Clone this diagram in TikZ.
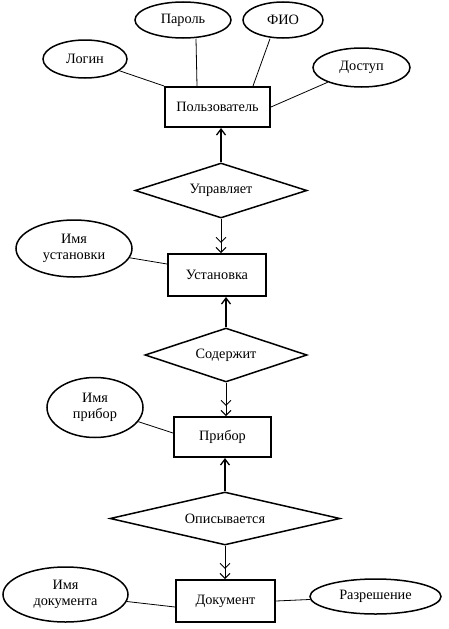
\documentclass[tikz,border=0pt]{standalone}
\usepackage{fontspec}
\setmainfont{Liberation Serif}
\usetikzlibrary{shapes.geometric,arrows.meta}
\begin{document}
\begin{tikzpicture}[x=1pt,y=-1pt,
 every node/.style={font=\fontsize{14.3}{16}\selectfont, align=center, inner sep=0pt},
 entity/.style={draw, line width=2pt, rectangle},
 attr/.style={draw, line width=1.5pt, ellipse},
 rel/.style={draw, line width=1.5pt, diamond},
 link/.style={line width=0.8pt},
 up/.style={line width=1.3pt, -{Straight Barb[length=6pt,width=9pt]}},
 dbl/.style={line width=0.9pt, -{Straight Barb[length=5pt,width=10pt,sep=4pt] Straight Barb[length=5pt,width=10pt]}}]
\useasboundingbox (0,0) rectangle (448,629);
\node[entity, minimum width=105pt, minimum height=40pt] (user) at (217.5,107) {Пользователь};
\node[attr, minimum width=96pt, minimum height=36pt] (parol) at (183,20) {Пароль};
\node[attr, minimum width=80pt, minimum height=36pt] (fio) at (283,20) {ФИО};
\node[attr, minimum width=84pt, minimum height=38pt] (login) at (85,59) {Логин};
\node[attr, minimum width=97pt, minimum height=39pt] (dostup) at (361.5,67.5) {Доступ};
\node[rel, aspect=3.6, minimum width=172pt, minimum height=55pt] (upr) at (221,190.5) {Управляет};
\node[entity, minimum width=98pt, minimum height=42pt] (ust) at (217,275) {Установка};
\node[attr, minimum width=116pt, minimum height=57pt] (imyaust) at (74,248.5) {Имя\\установки};
\node[rel, aspect=3.6, minimum width=162pt, minimum height=54pt] (sod) at (226,355) {Содержит};
\node[entity, minimum width=97pt, minimum height=40pt] (pribor) at (222.5,437) {Прибор};
\node[attr, minimum width=96pt, minimum height=60pt] (imyapr) at (95,407.5) {Имя\\прибор};
\node[rel, aspect=4.6, minimum width=230pt, minimum height=53pt] (opis) at (225,518.5) {Описывается};
\node[entity, minimum width=99pt, minimum height=42pt] (doc) at (225.5,601) {Документ};
\node[attr, minimum width=125pt, minimum height=55pt] (imyadoc) at (65.5,594.5) {Имя\\документа};
\node[attr, minimum width=131pt, minimum height=35pt] (razr) at (375.5,596.5) {Разрешение};
\draw[link] (login) -- (user.north west);
\draw[link] ([xshift=13pt]parol.south) -- ([xshift=33pt]user.north west);
\draw[link] ([xshift=-13pt]fio.south) -- ([xshift=89pt]user.north west);
\draw[link] (dostup) -- (user.east);
\draw[link] (imyaust) -- ([yshift=11pt]ust.west);
\draw[link] (imyapr) -- ([yshift=4pt]pribor.west);
\draw[link] (imyadoc) -- ([yshift=-6pt]doc.west);
\draw[link] (razr) -- (doc.east);
\draw[up] (upr.north) -- (upr.north |- user.south);
\draw[dbl] (upr.south) -- (upr.south |- ust.north);
\draw[up] (sod.north) -- (sod.north |- ust.south);
\draw[dbl] (sod.south) -- (sod.south |- pribor.north);
\draw[up] (opis.north) -- (opis.north |- pribor.south);
\draw[dbl] (opis.south) -- (opis.south |- doc.north);
\end{tikzpicture}
\end{document}
